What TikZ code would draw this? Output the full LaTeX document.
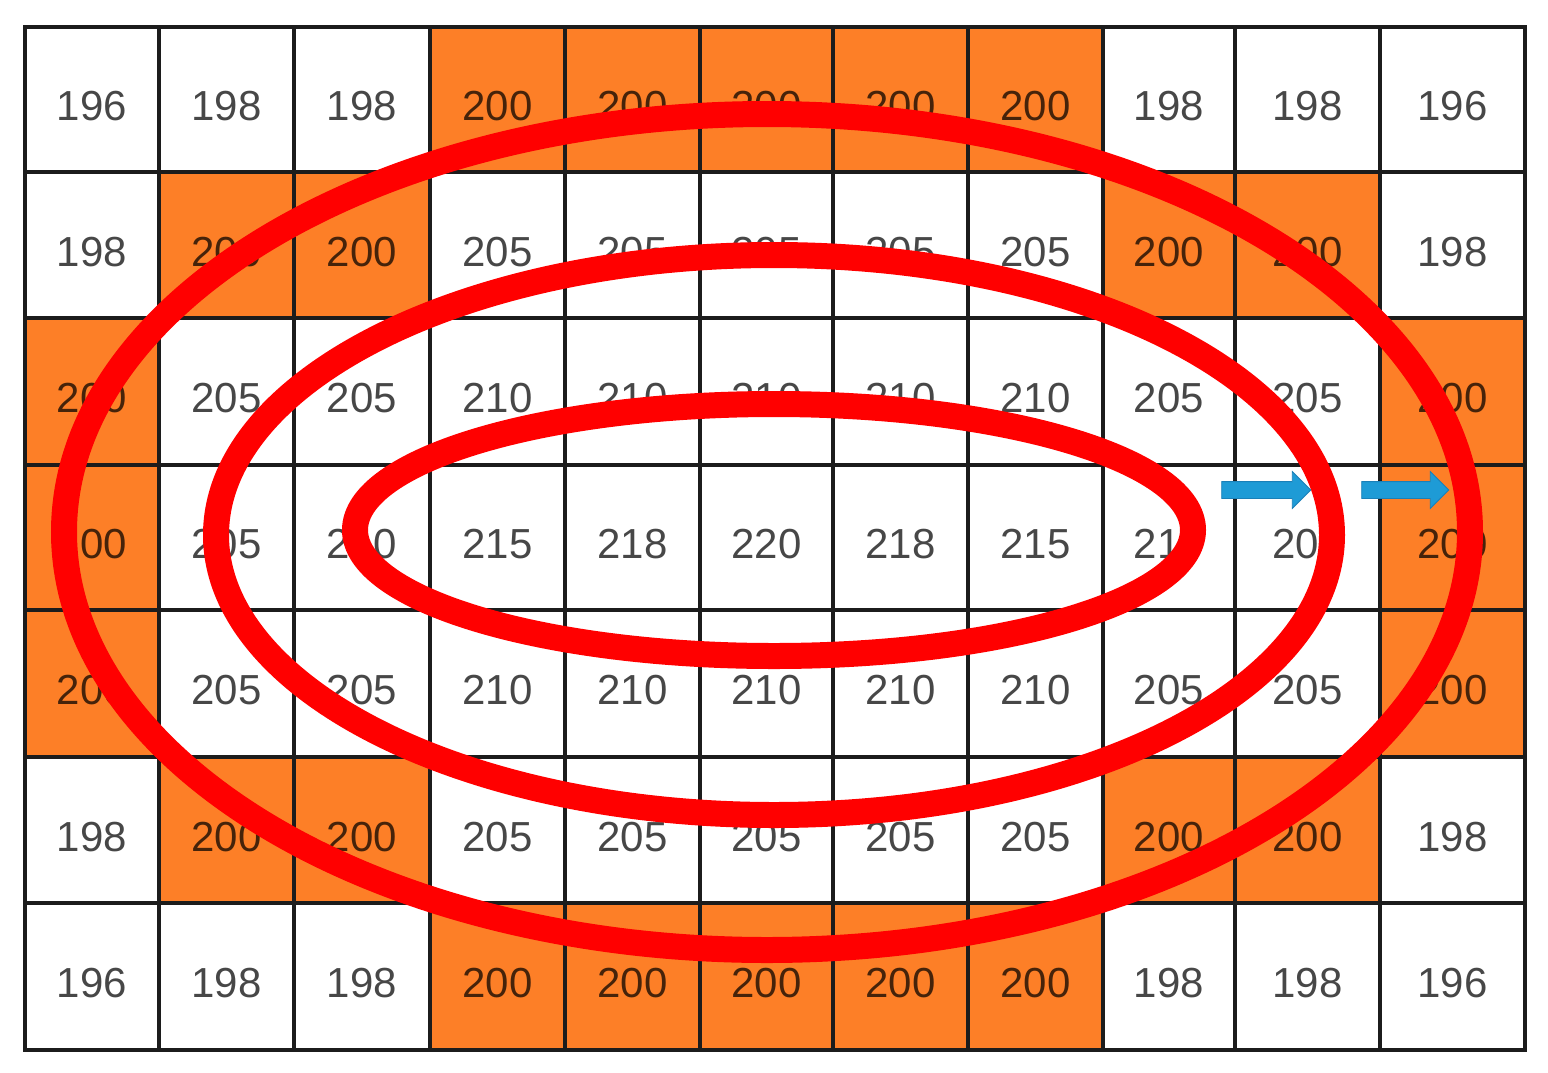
\documentclass[tikz,border=0pt]{standalone}
\usepackage{fontspec}
\setmainfont{Liberation Sans}
\usetikzlibrary{shapes.arrows}
\definecolor{cellorange}{HTML}{FD7F27}
\definecolor{ringred}{HTML}{FF0000}
\definecolor{arrowblue}{HTML}{1E9BD6}
\definecolor{arrowedge}{HTML}{1A80B8}
\definecolor{gridline}{HTML}{1C1C1C}
\def\colx{{25,159,294,430,565,700,833,968,1103,1235,1380,1525}}
\def\rowy{{27,172,318,465,610,757,903,1050}}
\def\cellval{{196,198,198,200,200,200,200,200,198,198,196,
198,200,200,205,205,205,205,205,200,200,198,
200,205,205,210,210,210,210,210,205,205,200,
200,205,210,215,218,220,218,215,210,205,200,
200,205,205,210,210,210,210,210,205,205,200,
198,200,200,205,205,205,205,205,200,200,198,
196,198,198,200,200,200,200,200,198,198,196}}
\def\cellorg{{0,0,0,1,1,1,1,1,0,0,0,
0,1,1,0,0,0,0,0,1,1,0,
1,0,0,0,0,0,0,0,0,0,1,
1,0,0,0,0,0,0,0,0,0,1,
1,0,0,0,0,0,0,0,0,0,1,
0,1,1,0,0,0,0,0,1,1,0,
0,0,0,1,1,1,1,1,0,0,0}}
\begin{document}
\begin{tikzpicture}[x=1pt,y=-1pt,
  num/.style={font=\fontsize{42}{42}\selectfont, text=black, text opacity=0.72, inner sep=0pt},
  ring/.style={draw=ringred, line width=26pt},
  gridrule/.style={draw=gridline, line width=3.2pt},
  bluearrow/.style={single arrow, fill=arrowblue, draw=arrowedge, line width=0.8pt,
    inner sep=0pt, inner ysep=8pt, single arrow head extend=10pt,
    minimum width=0pt, single arrow tip angle=90}]
\useasboundingbox (0,0) rectangle (1548,1072);
\fill[white] (0,0) rectangle (1548,1072);
% cells
\foreach \r in {0,...,6}{
  \foreach \c in {0,...,10}{
    \pgfmathtruncatemacro\xl{\colx[\c]}
    \pgfmathtruncatemacro\xr{\colx[\c+1]}
    \pgfmathtruncatemacro\yt{\rowy[\r]}
    \pgfmathtruncatemacro\yb{\rowy[\r+1]}
    \pgfmathtruncatemacro\k{\r*11+\c}
    \pgfmathtruncatemacro\v{\cellval[\k]}
    \pgfmathtruncatemacro\o{\cellorg[\k]}
    \ifnum\o=1 \fill[cellorange] (\xl,\yt) rectangle (\xr,\yb);\fi
    \node[num] (cell-\r-\c) at ({(\xl+\xr)/2},{(\yt+\yb)/2+7}) {\v};
  }
}
% grid
\foreach \x in {159,294,430,565,700,833,968,1103,1235,1380}
  \draw[gridrule] (\x,27) -- (\x,1050);
\foreach \y in {172,318,465,610,757,903}
  \draw[gridrule] (25,\y) -- (1525,\y);
\draw[gridrule] (25,27) rectangle (1525,1050);
% rings
\draw[ring] (767,532) ellipse [x radius=703, y radius=418];
\draw[ring] (774,535) ellipse [x radius=558, y radius=280];
\draw[ring] (774,530) ellipse [x radius=419, y radius=126];
% arrows
\node[bluearrow, minimum height=89pt] (arrowA) at (1262,490) {};
\node[bluearrow, minimum height=87pt] (arrowB) at (1401,490) {};
\end{tikzpicture}
\end{document}
